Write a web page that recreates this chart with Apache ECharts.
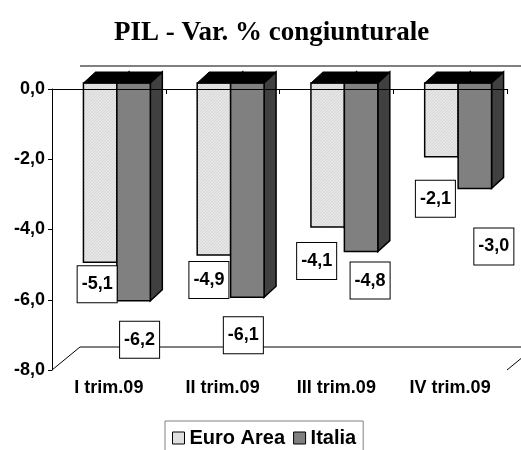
<!DOCTYPE html>
<html>
<head>
<meta charset="utf-8">
<script src="https://cdn.jsdelivr.net/npm/echarts@6/dist/echarts.min.js"></script>
<style>
  html, body { margin: 0; padding: 0; background: #fff; }
  #chart { width: 521px; height: 450px; }
</style>
</head>
<body>
<div id="chart"></div>
<script>
// Quarterly GDP change, % on previous quarter
const categories = ['I trim.09', 'II trim.09', 'III trim.09', 'IV trim.09'];
const euroArea = [-5.1, -4.9, -4.1, -2.1];
const italia = [-6.2, -6.1, -4.8, -3.0];
const seriesNames = ['Euro Area', 'Italia'];
const yMin = -8, yMax = 0, yStep = 2;

// Nudges (px) of each value box from the foot of its bar
const euroLabelShift = [[-3, 22], [-5, 25], [-11, 34], [-6, 42]];
const italiaLabelShift = [[6, 39], [-4, 38], [9, 29], [19, 58]];

// Pseudo-3D geometry
const WALL_DEPTH = [28, -23];   // floor / back wall offset
const BAR_DEPTH = [12, -11];    // depth of each column
const FRONT = [(WALL_DEPTH[0] - BAR_DEPTH[0]) / 2, (WALL_DEPTH[1] - BAR_DEPTH[1]) / 2];
const BAR_FRAC = 0.294;         // column width as share of the category band

const FONT = 'Arial, "Liberation Sans", sans-serif';

function fmt(v) { return v.toFixed(1).replace('.', ','); }

// Fine diagonal hatch for the light columns
function hatch() {
  const c = document.createElement('canvas');
  c.width = 3; c.height = 3;
  const g = c.getContext('2d');
  g.fillStyle = '#e6e6e6';
  g.fillRect(0, 0, 3, 3);
  g.fillStyle = '#d6d6d6';
  for (let k = 0; k < 3; k++) g.fillRect(k, 2 - k, 1, 1);
  return c;
}
const euroFill = { image: hatch(), repeat: 'repeat' };
const italiaFill = '#808080';

function columnRenderer(side, shifts, face) {
  return function (params, api) {
    const i = api.value(0), v = api.value(1);
    const bw = api.size([1, 0])[0];
    const w = bw * BAR_FRAC;
    const base = api.coord([i, 0]);
    const foot = api.coord([i, v]);
    const L = base[0] + FRONT[0] + (side === 0 ? -w : 0);
    const R = L + w;
    const yT = base[1] + FRONT[1];
    const yB = foot[1] + FRONT[1];
    const dx = BAR_DEPTH[0], dy = BAR_DEPTH[1];
    const sh = shifts[params.dataIndex];
    return {
      type: 'group',
      children: [
        { type: 'polygon',
          shape: { points: [[R, yT], [R + dx, yT + dy], [R + dx, yB + dy], [R, yB]] },
          style: { fill: '#404040', stroke: '#000', lineWidth: 1.5 } },
        { type: 'rect',
          shape: { x: L, y: yT, width: w, height: yB - yT },
          style: { fill: face, stroke: '#000', lineWidth: 1.5 } },
        { type: 'polygon',
          shape: { points: [[L, yT], [R, yT], [R + dx, yT + dy], [L + dx, yT + dy]] },
          style: { fill: '#000', stroke: '#000', lineWidth: 1 } },
        { type: 'text', z2: 50,
          x: (L + R) / 2 + sh[0], y: yB + sh[1],
          style: {
            text: fmt(v), font: 'bold 18px ' + FONT, fill: '#000',
            align: 'center', verticalAlign: 'middle',
            backgroundColor: '#fff', borderColor: '#000', borderWidth: 1,
            padding: [9, 4]
          } }
      ]
    };
  };
}

// Floor and back-wall edges
function wallRenderer(params) {
  const r = params.coordSys;
  const x0 = r.x, x1 = r.x + r.width, yt = r.y, yb = r.y + r.height;
  const dx = WALL_DEPTH[0], dy = WALL_DEPTH[1];
  return {
    type: 'group',
    children: [
      { type: 'line', shape: { x1: x0 + dx, y1: yt + dy, x2: x1 + dx, y2: yt + dy },
        style: { stroke: '#808080', lineWidth: 2 } },
      { type: 'line', shape: { x1: x0 + dx, y1: yb + dy, x2: x1 + dx, y2: yb + dy },
        style: { stroke: '#808080', lineWidth: 2 } },
      { type: 'line', shape: { x1: x0, y1: yb, x2: x0 + dx, y2: yb + dy },
        style: { stroke: '#000', lineWidth: 1 } },
      { type: 'line', shape: { x1: x1, y1: yb, x2: x1 + dx, y2: yb + dy },
        style: { stroke: '#000', lineWidth: 1 } }
    ]
  };
}

const chart = echarts.init(document.getElementById('chart'), null, { renderer: 'canvas' });

chart.setOption({
  animation: false,
  backgroundColor: '#fff',
  title: {
    text: 'PIL - Var. % congiunturale',
    left: 109,
    top: 15,
    textStyle: { fontFamily: '"Liberation Serif", "Times New Roman", serif', fontWeight: 'bold', fontSize: 27, color: '#000' }
  },
  legend: {
    data: seriesNames,
    left: 165, top: 421,
    icon: 'rect', itemWidth: 12, itemHeight: 12, itemGap: 8,
    padding: [7, 7, 16, 7],
    borderColor: '#808080', borderWidth: 1,
    itemStyle: { borderColor: '#000', borderWidth: 1 },
    textStyle: { fontFamily: FONT, fontWeight: 'bold', fontSize: 20, color: '#000' }
  },
  grid: { left: 52, right: 14, top: 89, bottom: 80, containLabel: false },
  xAxis: [
    {
      type: 'category', data: categories, position: 'bottom',
      axisLine: { lineStyle: { color: '#000', width: 1 } },
      axisTick: { show: true, length: 5, lineStyle: { color: '#000' } },
      axisLabel: { fontFamily: FONT, fontWeight: 'bold', fontSize: 18, color: '#000', margin: 9 },
      splitLine: { show: false }
    },
    {
      type: 'category', data: categories, position: 'top', z: 10,
      axisLine: { lineStyle: { color: '#000', width: 1 } },
      axisTick: { show: true, inside: true, length: 4, lineStyle: { color: '#000' } },
      axisLabel: { show: false },
      splitLine: { show: false }
    }
  ],
  yAxis: {
    type: 'value', min: yMin, max: yMax, interval: yStep,
    axisLine: { show: true, lineStyle: { color: '#000', width: 1 } },
    axisTick: { show: true, length: 4, lineStyle: { color: '#000' } },
    axisLabel: { fontFamily: FONT, fontWeight: 'bold', fontSize: 18, color: '#000', margin: 7, formatter: fmt },
    splitLine: { show: false }
  },
  series: [
    {
      name: 'walls', type: 'custom', z: 1, silent: true,
      renderItem: wallRenderer, data: [[0, 0]]
    },
    {
      name: seriesNames[0], type: 'custom', z: 2,
      itemStyle: { color: euroFill, borderColor: '#000', borderWidth: 1 },
      renderItem: columnRenderer(0, euroLabelShift, euroFill),
      encode: { x: 0, y: 1 },
      data: euroArea.map((v, i) => [i, v])
    },
    {
      name: seriesNames[1], type: 'custom', z: 2,
      itemStyle: { color: italiaFill, borderColor: '#000', borderWidth: 1 },
      renderItem: columnRenderer(1, italiaLabelShift, italiaFill),
      encode: { x: 0, y: 1 },
      data: italia.map((v, i) => [i, v])
    }
  ]
});
</script>
</body>
</html>
